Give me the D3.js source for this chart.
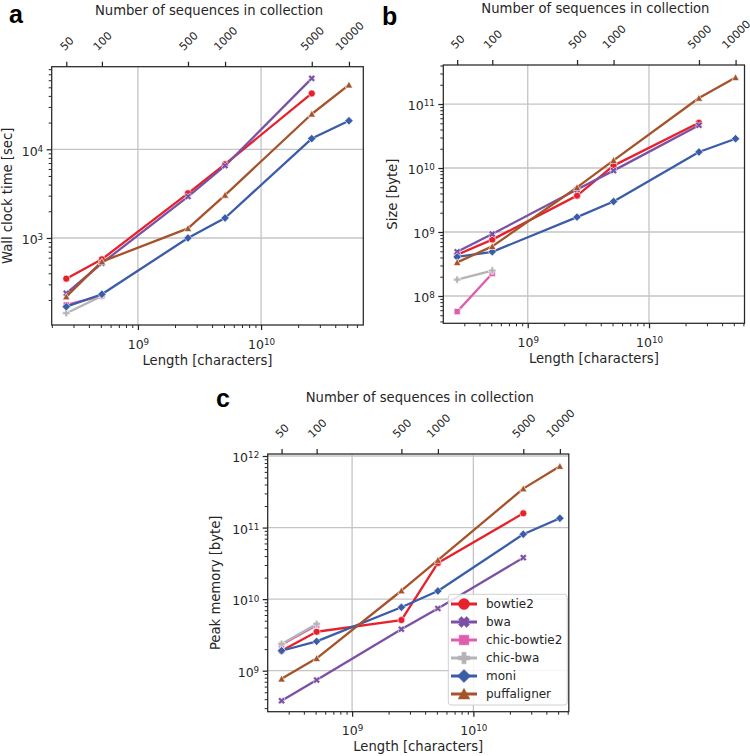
<!DOCTYPE html>
<html><head><meta charset="utf-8">
<script src="https://cdn.jsdelivr.net/npm/d3@7"></script>
<style>
body{margin:0;background:#fff}
svg{display:block}
text{font-family:"DejaVu Sans",sans-serif;fill:#262626}
</style>
</head><body>
<svg id="chart" width="750" height="756"></svg>
<script>
// ---------------- data ----------------
const seqCounts = [50, 100, 500, 1000, 5000, 10000];
const lengths = [2.62e8, 5.1e8, 2.55e9, 5.1e9, 2.58e10, 5.17e10];
const tools = ["bowtie2", "bwa", "chic-bowtie2", "chic-bwa", "moni", "puffaligner"];
const toolColors = ["#e6212b", "#7b50a5", "#df5cae", "#b4b4b4", "#3b5ca8", "#a5532a"];
const toolMarkers = ["circle", "x", "square", "plus", "diamond", "triangle"];

// panel a: wall clock time [sec]
const wallTime = [
  [348, 575, 3190, 6780, 42600, null],
  [238, 519, 2930, 6530, 63000, null],
  [176, 222, null, null, null, null],
  [142, 222, null, null, null, null],
  [168, 232, 1000, 1680, 13200, 21000],
  [218, 541, 1285, 3050, 25000, 53300]
];
// panel b: index size [byte]
const indexSize = [
  [4.4e8, 7.6e8, 3.7e9, 1.09e10, 5.1e10, null],
  [4.9e8, 9.3e8, 4.6e9, 9.1e9, 4.65e10, null],
  [5.7e7, 2.24e8, null, null, null, null],
  [1.8e8, 2.5e8, null, null, null, null],
  [4.07e8, 4.9e8, 1.71e9, 3.0e9, 1.78e10, 2.87e10],
  [3.35e8, 5.96e8, 4.97e9, 1.32e10, 1.24e11, 2.6e11]
];
// panel c: peak memory [byte]
const peakMemory = [
  [1.9e9, 3.5e9, 5.1e9, 3.2e10, 1.58e11, null],
  [3.8e8, 7.4e8, 3.8e9, 7.4e9, 3.8e10, null],
  [2.3e9, 4.3e9, null, null, null, null],
  [2.36e9, 4.5e9, null, null, null, null],
  [1.9e9, 2.57e9, 7.7e9, 1.3e10, 8.07e10, 1.35e11],
  [7.7e8, 1.49e9, 1.31e10, 3.5e10, 3.5e11, 7.2e11]
];

// ---------------- layout ----------------
const panels = [
  {letter: "a", data: wallTime, ylabel: "Wall clock time [sec]",
   l: 51.7, r: 363.3, t: 66.7, b: 325, xd: [8.30, 10.83], yd: [2.019, 4.931],
   ylabX: 11.8, letX: 9, letY: 23, titleY: 15},
  {letter: "b", data: indexSize, ylabel: "Size [byte]",
   l: 443.3, r: 744.5, t: 65, b: 323.3, xd: [8.304, 10.787], yd: [7.573, 11.61],
   ylabX: 396.6, letX: 382, letY: 25, titleY: 13},
  {letter: "c", data: peakMemory, ylabel: "Peak memory [byte]",
   l: 267.7, r: 568.8, t: 454, b: 711.7, xd: [8.304, 10.787], yd: [8.427, 12.028],
   ylabX: 219.8, letX: 216, letY: 407, titleY: 402, legend: true}
];

const svg = d3.select("#chart");
const INK = "#262626";

function markerPath(kind, r) {
  const p = d3.path();
  if (kind === "circle") { p.arc(0, 0, r, 0, 2 * Math.PI); p.closePath(); return p.toString(); }
  if (kind === "square") { const s = r * 0.88; p.rect(-s, -s, 2 * s, 2 * s); return p.toString(); }
  if (kind === "diamond") { const s = r * 1.2; p.moveTo(0, -s); p.lineTo(s, 0); p.lineTo(0, s); p.lineTo(-s, 0); p.closePath(); return p.toString(); }
  if (kind === "triangle") { const s = r * 1.05; p.moveTo(0, -s); p.lineTo(s, s * 0.85); p.lineTo(-s, s * 0.85); p.closePath(); return p.toString(); }
  // plus / x : filled cross
  const a = r * 1.05, w = r * 0.38;
  const pts = [[-w,-a],[w,-a],[w,-w],[a,-w],[a,w],[w,w],[w,a],[-w,a],[-w,w],[-a,w],[-a,-w],[-w,-w]];
  const rot = kind === "x" ? Math.PI / 4 : 0;
  pts.forEach((q, i) => {
    const xx = q[0] * Math.cos(rot) - q[1] * Math.sin(rot);
    const yy = q[0] * Math.sin(rot) + q[1] * Math.cos(rot);
    if (i === 0) p.moveTo(xx, yy); else p.lineTo(xx, yy);
  });
  p.closePath();
  return p.toString();
}

function decades(lo, hi) { const out = []; for (let e = Math.ceil(lo - 1e-9); e <= Math.floor(hi + 1e-9); e++) out.push(10 ** e); return out; }
function minors(lo, hi) {
  const out = [];
  for (let e = Math.floor(lo) ; e <= Math.ceil(hi); e++)
    for (let k = 2; k <= 9; k++) { const v = k * 10 ** e; const lv = Math.log10(v); if (lv >= lo && lv <= hi) out.push(v); }
  return out;
}
function supLabel(sel, d) {
  const e = Math.round(Math.log10(d));
  sel.text(null);
  sel.append("tspan").text("10");
  sel.append("tspan").attr("dy", "-0.45em").attr("font-size", "0.7em").text(e);
}

panels.forEach(cfg => {
  const g = svg.append("g");
  const x = d3.scaleLog().domain([10 ** cfg.xd[0], 10 ** cfg.xd[1]]).range([cfg.l, cfg.r]);
  const y = d3.scaleLog().domain([10 ** cfg.yd[0], 10 ** cfg.yd[1]]).range([cfg.b, cfg.t]);
  const majX = decades(cfg.xd[0], cfg.xd[1]);
  const majY = decades(cfg.yd[0], cfg.yd[1]);

  // grid
  const grid = g.append("g").attr("stroke", "#c4c4c4").attr("stroke-width", 1.3);
  majX.forEach(v => grid.append("line").attr("x1", x(v)).attr("x2", x(v)).attr("y1", cfg.t).attr("y2", cfg.b));
  majY.forEach(v => grid.append("line").attr("x1", cfg.l).attr("x2", cfg.r).attr("y1", y(v)).attr("y2", y(v)));

  // bottom axis
  const gxm = g.append("g").attr("transform", `translate(0,${cfg.b})`)
    .call(d3.axisBottom(x).tickValues(minors(cfg.xd[0], cfg.xd[1])).tickSize(3).tickFormat(() => ""));
  const gx = g.append("g").attr("transform", `translate(0,${cfg.b})`)
    .call(d3.axisBottom(x).tickValues(majX).tickSize(5).tickFormat(() => ""));
  gx.selectAll(".tick text").each(function(d) {
    const t = d3.select(this).attr("y", 23.5).attr("dy", null).attr("font-size", 12.5).attr("fill", INK);
    supLabel(t, d);
  });
  // left axis
  const gym = g.append("g").attr("transform", `translate(${cfg.l},0)`)
    .call(d3.axisLeft(y).tickValues(minors(cfg.yd[0], cfg.yd[1])).tickSize(3).tickFormat(() => ""));
  const gy = g.append("g").attr("transform", `translate(${cfg.l},0)`)
    .call(d3.axisLeft(y).tickValues(majY).tickSize(5).tickFormat(() => ""));
  gy.selectAll(".tick text").each(function(d) {
    const t = d3.select(this).attr("x", -8.5).attr("dy", null).attr("y", 5.8).attr("font-size", 12.5).attr("fill", INK);
    supLabel(t, d);
  });
  // top axis
  const TF = 11;
  const gt = g.append("g").attr("transform", `translate(0,${cfg.t})`)
    .call(d3.axisTop(x).tickValues(lengths).tickSize(5).tickFormat((d, i) => seqCounts[i]));
  gt.selectAll(".tick text").each(function() {
    const t = d3.select(this).attr("font-size", TF).attr("fill", INK).attr("dy", "0.36em").attr("y", 0).attr("text-anchor", "middle");
    const w = this.getComputedTextLength();
    const c = 0.73 * TF;
    const cy = -15.5 - (w + c) * 0.3536;
    t.attr("transform", `translate(0,${cy}) rotate(-45)`);
  });
  [gxm, gx, gym, gy, gt].forEach(s => {
    s.select(".domain").remove();
    s.selectAll(".tick line").attr("stroke", INK);
    s.attr("font-family", null);
  });
  [gxm, gym].forEach(s => s.selectAll(".tick line").attr("stroke-width", 1));
  [gx, gy, gt].forEach(s => s.selectAll(".tick line").attr("stroke-width", 1.25));

  // series
  const line = d3.line().defined(d => d.v != null).x(d => x(d.L)).y(d => y(d.v));
  cfg.data.forEach((vals, i) => {
    const pts = vals.map((v, j) => ({L: lengths[j], v}));
    g.append("path").datum(pts).attr("d", line).attr("fill", "none")
      .attr("stroke", toolColors[i]).attr("stroke-width", 2.3).attr("stroke-linejoin", "round");
    g.append("g").selectAll("path").data(pts.filter(d => d.v != null)).join("path")
      .attr("transform", d => `translate(${x(d.L)},${y(d.v)})`)
      .attr("d", markerPath(toolMarkers[i], 3.5))
      .attr("fill", toolColors[i]).attr("stroke", "#fff").attr("stroke-width", 0.6);
  });

  // frame
  g.append("rect").attr("x", cfg.l).attr("y", cfg.t).attr("width", cfg.r - cfg.l).attr("height", cfg.b - cfg.t)
    .attr("fill", "none").attr("stroke", INK).attr("stroke-width", 1.25);

  // labels
  g.append("text").attr("x", (cfg.l + cfg.r) / 2).attr("y", cfg.b + 39.5).attr("text-anchor", "middle")
    .attr("font-size", 13.2).text("Length [characters]");
  g.append("text").attr("transform", `translate(${cfg.ylabX},${(cfg.t + cfg.b) / 2}) rotate(-90)`)
    .attr("text-anchor", "middle").attr("font-size", 13.2).text(cfg.ylabel);
  g.append("text").attr("x", (cfg.l + cfg.r) / 2 + 1.5).attr("y", cfg.titleY).attr("text-anchor", "middle")
    .attr("font-size", 13.2).text("Number of sequences in collection");
  g.append("text").attr("x", cfg.letX).attr("y", cfg.letY).attr("font-size", 25).attr("font-weight", "bold")
    .style("font-family", "'Liberation Sans', Arial, sans-serif").style("fill", "#000").text(cfg.letter);

  if (cfg.legend) {
    const lg = g.append("g");
    lg.append("rect").attr("x", 448.3).attr("y", 594.3).attr("width", 119).attr("height", 110.7).attr("rx", 3)
      .attr("fill", "#fff").attr("fill-opacity", 0.85).attr("stroke", "#d0d0d0").attr("stroke-width", 1);
    tools.forEach((name, i) => {
      const yy = 604 + i * 18;
      lg.append("line").attr("x1", 451).attr("x2", 477).attr("y1", yy).attr("y2", yy)
        .attr("stroke", toolColors[i]).attr("stroke-width", 3);
      lg.append("path").attr("transform", `translate(464,${yy})`).attr("d", markerPath(toolMarkers[i], 5.5))
        .attr("fill", toolColors[i]).attr("stroke", toolColors[i]).attr("stroke-width", 0.5);
      lg.append("text").attr("x", 486).attr("y", yy + 4.3).attr("font-size", 12).text(name);
    });
  }
});
</script>
</body></html>
